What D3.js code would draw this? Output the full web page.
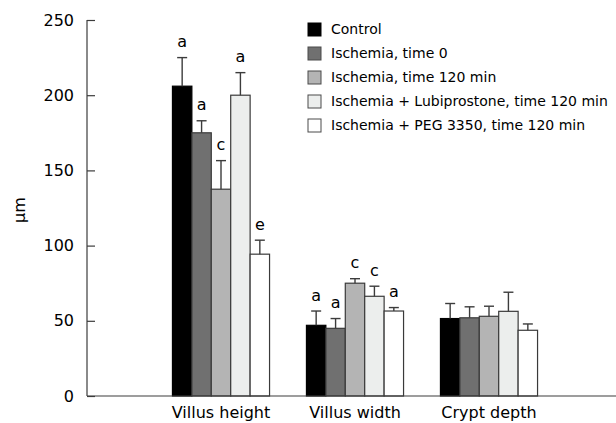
<!DOCTYPE html>
<html>
<head>
<meta charset="utf-8">
<script src="https://cdn.jsdelivr.net/npm/d3@7"></script>
<style>
  html, body { margin: 0; padding: 0; background: #fff; }
  svg { display: block; font-family: "DejaVu Sans", Verdana, sans-serif; }
</style>
</head>
<body>
<svg id="chart" width="616" height="423"></svg>
<script>
const categories = ["Villus height", "Villus width", "Crypt depth"];
const seriesNames = [
  "Control",
  "Ischemia, time 0",
  "Ischemia, time 120 min",
  "Ischemia + Lubiprostone, time 120 min",
  "Ischemia + PEG 3350, time 120 min"
];
const seriesColors = ["#000000", "#707070", "#b4b4b4", "#eceeed", "#ffffff"];

const controlMean = [206, 47, 51.5];
const controlErr  = [19, 9.5, 10];
const isch0Mean   = [175, 45, 52];
const isch0Err    = [8, 6.5, 7.3];
const isch120Mean = [137.5, 75, 53];
const isch120Err  = [19, 3, 6.7];
const lubiMean    = [200, 66.3, 56.3];
const lubiErr     = [15, 6.7, 12.7];
const pegMean     = [94.3, 56.5, 43.7];
const pegErr      = [9.3, 2.3, 4.2];

const controlLetters = ["a", "a", ""];
const isch0Letters   = ["a", "a", ""];
const isch120Letters = ["c", "c", ""];
const lubiLetters    = ["a", "c", ""];
const pegLetters     = ["e", "a", ""];

const yTicks = [0, 50, 100, 150, 200, 250];

const means = [controlMean, isch0Mean, isch120Mean, lubiMean, pegMean];
const errs = [controlErr, isch0Err, isch120Err, lubiErr, pegErr];
const letters = [controlLetters, isch0Letters, isch120Letters, lubiLetters, pegLetters];

const data = [];
categories.forEach((c, ci) => {
  seriesNames.forEach((s, si) => {
    data.push({cat: c, series: s, si: si, v: means[si][ci], e: errs[si][ci], letter: letters[si][ci]});
  });
});

const svg = d3.select("#chart");
const axisLeftX = 87, axisRightX = 616;
const y = d3.scaleLinear().domain([0, 250]).range([396, 20]);
const x = d3.scaleBand().domain(categories).range([154, 556]).padding(0);
const xs = d3.scaleBand().domain(seriesNames).range([0, x.bandwidth()]).paddingInner(0).paddingOuter(0.95);
const axisColor = "#3c3c3c";

// bars
const g = svg.append("g");
g.selectAll("rect.bar").data(data).enter().append("rect")
  .attr("class", "bar")
  .attr("x", d => x(d.cat) + xs(d.series))
  .attr("y", d => y(d.v))
  .attr("width", xs.bandwidth())
  .attr("height", d => y(0) - y(d.v))
  .attr("fill", d => seriesColors[d.si])
  .attr("stroke", d => d.si === 0 ? "#000" : "#3a3a3a")
  .attr("stroke-width", 1.2);

// error bars
const cx = d => x(d.cat) + xs(d.series) + xs.bandwidth() / 2;
g.selectAll("line.err").data(data).enter().append("line")
  .attr("x1", cx).attr("x2", cx)
  .attr("y1", d => y(d.v)).attr("y2", d => y(d.v + d.e))
  .attr("stroke", axisColor).attr("stroke-width", 1.4);
g.selectAll("line.cap").data(data).enter().append("line")
  .attr("x1", d => cx(d) - 5).attr("x2", d => cx(d) + 5)
  .attr("y1", d => y(d.v + d.e)).attr("y2", d => y(d.v + d.e))
  .attr("stroke", axisColor).attr("stroke-width", 1.4);

// letters
g.selectAll("text.letter").data(data.filter(d => d.letter)).enter().append("text")
  .attr("x", cx)
  .attr("y", d => y(d.v + d.e) - 10.5)
  .attr("text-anchor", "middle")
  .attr("font-size", 16)
  .attr("fill", "#000")
  .text(d => d.letter);

// y axis
const yAxis = svg.append("g").attr("transform", `translate(${axisLeftX},0)`)
  .call(d3.axisLeft(y).tickValues(yTicks).tickSize(-8).tickPadding(13).tickFormat(d3.format("d")));
yAxis.select(".domain").remove();
yAxis.selectAll(".tick line").attr("stroke", axisColor).attr("stroke-width", 1.2);
yAxis.selectAll(".tick text").attr("font-size", 16).attr("fill", "#000").attr("font-family", "DejaVu Sans, Verdana, sans-serif");
svg.append("line").attr("x1", axisLeftX).attr("x2", axisLeftX).attr("y1", y(250)).attr("y2", y(0))
  .attr("stroke", axisColor).attr("stroke-width", 1.2);

// x axis
const xAxis = svg.append("g").attr("transform", `translate(0,${y(0)})`)
  .call(d3.axisBottom(x).tickSize(0).tickPadding(11));
xAxis.select(".domain").remove();
xAxis.selectAll(".tick text").attr("font-size", 16).attr("fill", "#000").attr("font-family", "DejaVu Sans, Verdana, sans-serif");
svg.append("line").attr("x1", axisLeftX).attr("x2", axisRightX).attr("y1", y(0)).attr("y2", y(0))
  .attr("stroke", axisColor).attr("stroke-width", 1.2);

// y label
svg.append("text")
  .attr("transform", "translate(25,210) rotate(-90)")
  .attr("text-anchor", "middle")
  .attr("font-size", 16)
  .text("µm");

// legend
const legend = svg.append("g");
seriesNames.forEach((s, i) => {
  const ly = 29.5 + i * 24;
  legend.append("rect")
    .attr("x", 308).attr("y", ly - 6.5).attr("width", 13).attr("height", 13)
    .attr("fill", seriesColors[i]).attr("stroke", i === 0 ? "#000" : "#4a4a4a").attr("stroke-width", 1);
  legend.append("text")
    .attr("x", 331).attr("y", ly).attr("dy", "0.35em")
    .attr("font-size", 14)
    .text(s);
});
</script>
</body>
</html>
